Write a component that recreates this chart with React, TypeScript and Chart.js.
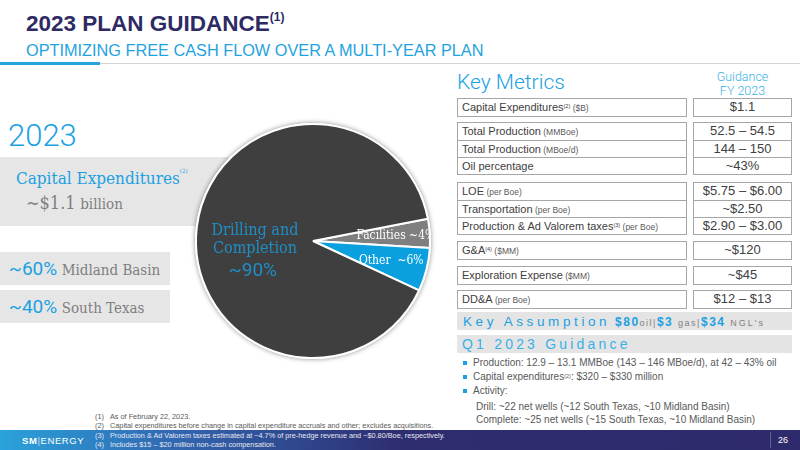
import { Fragment, useEffect, useRef } from "react"
import { Chart, registerables } from "chart.js"

Chart.register(...registerables)

// 2023 capital split by use (% of total)
const categories = ["Facilities", "Other", "Drilling and Completion"]
const shares = [4, 6, 90]
const sliceLabels = [["Facilities ~4%"], ["Other  ~6%"], ["Drilling and", "Completion", "~90%"]]
const sliceColors = ["#7f7f7f", "#0aa0e0", "#3f3f3f"]

// key metrics table
const metricNames = [
  "Capital Expenditures",
  "Total Production",
  "Total Production",
  "Oil percentage",
  "LOE",
  "Transportation",
  "Production & Ad Valorem taxes",
  "G&A",
  "Exploration Expense",
  "DD&A",
]
const metricNotes = ["(2)", "", "", "", "", "", "(3)", "(4)", "", ""]
const metricUnits = ["($B)", "(MMBoe)", "(MBoe/d)", "", "(per Boe)", "(per Boe)", "(per Boe)", "($MM)", "($MM)", "(per Boe)"]
const metricValues = ["$1.1", "52.5 – 54.5", "144 – 150", "~43%", "$5.75 – $6.00", "~$2.50", "$2.90 – $3.00", "~$120", "~$45", "$12 – $13"]
const metricGroups = [[0], [1, 2, 3], [4, 5, 6], [7], [8], [9]]

const footnotes = [
  "As of February 22, 2023.",
  "Capital expenditures before change in capital expenditure accruals and other; excludes acquisitions.",
  "Production & Ad Valorem taxes estimated at ~4.7% of pre-hedge revenue and ~$0.80/Boe, respectively.",
  "Includes $15 – $20 million non-cash compensation.",
]

const sans = "'Liberation Sans', Arial, sans-serif"
const light = "Roboto, 'Noto Sans', sans-serif"
const serif = "'DejaVu Serif Condensed', 'DejaVu Serif', serif"
const blue = "#1ba1e2"
const gray = "#7f7f7f"
const line = "1.5px solid #a6a6a6"
const groupTops = [98, 122, 182, 241, 266, 290]
const ROW = 17

// label placement inside the pie: fraction of radius along the slice middle
const labelFrac = [0.71, 0.69, 0.5]

const sup = (t: string, size = 6) => (
  <span style={{ fontSize: size, verticalAlign: "top", position: "relative", top: -1 }}>{t}</span>
)

export default function App() {
  const chartRef = useRef<HTMLCanvasElement>(null)
  const chartInstance = useRef<Chart | null>(null)

  useEffect(() => {
    if (!chartRef.current) return
    if (chartInstance.current) chartInstance.current.destroy()
    const ctx = chartRef.current.getContext("2d")
    if (!ctx) return

    const shadow = {
      id: "pieShadow",
      beforeDatasetsDraw(chart: Chart) {
        const arc: any = chart.getDatasetMeta(0).data[0]
        if (!arc) return
        const { x, y, outerRadius } = arc.getProps(["x", "y", "outerRadius"], true)
        const c = chart.ctx
        c.save()
        c.shadowColor = "rgba(0,0,0,0.45)"
        c.shadowBlur = 5
        c.beginPath()
        c.arc(x, y, outerRadius + 1, 0, Math.PI * 2)
        c.fillStyle = "#ffffff"
        c.fill()
        c.restore()
      },
    }

    const labels = {
      id: "sliceLabels",
      afterDatasetsDraw(chart: Chart) {
        const c = chart.ctx
        const arcs: any[] = chart.getDatasetMeta(0).data as any[]
        arcs.forEach((arc, i) => {
          const { x, y, startAngle, endAngle, outerRadius } = arc.getProps(
            ["x", "y", "startAngle", "endAngle", "outerRadius"],
            true
          )
          const mid = (startAngle + endAngle) / 2
          const lx = x + Math.cos(mid) * outerRadius * labelFrac[i]
          const ly = y + Math.sin(mid) * outerRadius * labelFrac[i]
          c.save()
          c.beginPath()
          c.arc(x, y, outerRadius - 1, 0, Math.PI * 2)
          c.clip()
          c.textAlign = "center"
          c.textBaseline = "middle"
          const lines = sliceLabels[i]
          if (lines.length === 1) {
            c.fillStyle = "#ffffff"
            c.font = `12px ${serif}`
            c.fillText(lines[0], lx, ly)
          } else {
            c.fillStyle = "#1e8fc6"
            c.font = `16px ${serif}`
            c.fillText(lines[0], lx, ly - 3)
            c.fillText(lines[1], lx, ly + 15)
            c.font = `19px ${light}`
            c.fillText(lines[2], lx - 2, ly + 37)
          }
          c.restore()
        })
      },
    }

    chartInstance.current = new Chart(ctx, {
      type: "pie",
      data: {
        labels: categories,
        datasets: [
          {
            data: shares,
            backgroundColor: sliceColors,
            borderColor: "#ffffff",
            borderWidth: 2,
          },
        ],
      },
      options: {
        responsive: true,
        maintainAspectRatio: false,
        animation: false,
        rotation: 79,
        layout: { padding: 6 },
        plugins: {
          legend: { display: false },
          tooltip: { enabled: false },
        },
      },
      plugins: [shadow, labels],
    })

    return () => {
      if (chartInstance.current) {
        chartInstance.current.destroy()
        chartInstance.current = null
      }
    }
  }, [])

  const abs = (l: number, t: number, extra: any = {}) => ({ position: "absolute" as const, left: l, top: t, ...extra })

  return (
    <div
      style={{
        position: "fixed",
        left: 0,
        top: 0,
        width: 800,
        height: 450,
        background: "#ffffff",
        overflow: "hidden",
        fontFamily: sans,
        color: "#404040",
      }}
    >
      {/* title */}
      <div style={abs(26, 11, { fontSize: 22.5, fontWeight: 700, color: "#2e2a63", whiteSpace: "nowrap" })}>
        2023 PLAN GUIDANCE
        <span style={{ fontSize: 12, verticalAlign: "top", position: "relative", top: -1 }}>(1)</span>
      </div>
      <div style={abs(26, 41, { fontSize: 16.3, color: "#1fa3e0", whiteSpace: "nowrap" })}>
        OPTIMIZING FREE CASH FLOW OVER A MULTI-YEAR PLAN
      </div>
      <div style={abs(0, 63, { width: 800, height: 1, background: "#d4d4d4" })} />
      <div style={abs(0, 62, { width: 100, height: 2.5, background: "#2aa3dd" })} />

      {/* left panel */}
      <div style={abs(8, 117, { fontFamily: light, fontWeight: 300, fontSize: 31, color: blue })}>2023</div>
      <div style={abs(0, 157, { width: 250, height: 69, background: "#e6e6e6" })} />
      <div style={abs(16, 168, { fontFamily: serif, fontSize: 17, color: blue, whiteSpace: "nowrap" })}>
        Capital Expenditures{sup("(2)")}
      </div>
      <div style={abs(26, 192, { fontFamily: serif, color: gray, whiteSpace: "nowrap" })}>
        <span style={{ fontSize: 18 }}>~$1.1</span> <span style={{ fontSize: 15 }}>billion</span>
      </div>
      <div style={abs(0, 252, { width: 170, height: 33, background: "#e6e6e6" })} />
      <div style={abs(0, 290, { width: 170, height: 33, background: "#e6e6e6" })} />
      <div style={abs(9, 257, { whiteSpace: "nowrap" })}>
        <span style={{ fontFamily: light, fontSize: 19, color: blue }}>~60%</span>{" "}
        <span style={{ fontFamily: serif, fontSize: 15, color: gray }}>Midland Basin</span>
      </div>
      <div style={abs(9, 295, { whiteSpace: "nowrap" })}>
        <span style={{ fontFamily: light, fontSize: 19, color: blue }}>~40%</span>{" "}
        <span style={{ fontFamily: serif, fontSize: 15, color: gray }}>South Texas</span>
      </div>

      {/* pie */}
      <div style={abs(189, 117, { width: 248, height: 248 })}>
        <canvas ref={chartRef} />
      </div>

      {/* key metrics */}
      <div style={abs(457, 70, { fontFamily: light, fontWeight: 300, fontSize: 21, color: blue })}>Key Metrics</div>
      <div
        style={abs(693, 70, {
          width: 99,
          textAlign: "center",
          fontFamily: light,
          fontWeight: 300,
          fontSize: 12.5,
          lineHeight: "14px",
          color: "#3ab0e6",
        })}
      >
        Guidance
        <br />
        FY 2023
      </div>
      {metricGroups.map((rows, g) => (
        <Fragment key={g}>
          <div style={abs(457, groupTops[g], { width: 230, border: line, boxSizing: "border-box" })}>
            {rows.map((r, k) => (
              <div
                key={r}
                style={{
                  height: ROW,
                  boxSizing: "border-box",
                  borderTop: k ? line : "none",
                  paddingLeft: 4,
                  fontSize: 11,
                  lineHeight: `${ROW - 1}px`,
                  whiteSpace: "nowrap",
                }}
              >
                {metricNames[r]}
                {metricNotes[r] ? sup(metricNotes[r], 5.5) : null}
                {metricUnits[r] ? <span style={{ fontSize: 8.5, color: "#595959" }}> {metricUnits[r]}</span> : null}
              </div>
            ))}
          </div>
          <div style={abs(693, groupTops[g], { width: 99, border: line, boxSizing: "border-box" })}>
            {rows.map((r, k) => (
              <div
                key={r}
                style={{
                  height: ROW,
                  boxSizing: "border-box",
                  borderTop: k ? line : "none",
                  textAlign: "center",
                  fontSize: 13,
                  lineHeight: `${ROW - 1}px`,
                  whiteSpace: "nowrap",
                }}
              >
                {metricValues[r]}
              </div>
            ))}
          </div>
        </Fragment>
      ))}

      {/* key assumption */}
      <div style={abs(457, 312, { width: 335, height: 18, background: "#e4e4e4" })} />
      <div style={abs(463, 312, { lineHeight: "18px", whiteSpace: "nowrap", color: blue })}>
        <span style={{ fontSize: 13.5, letterSpacing: 3.6 }}>Key Assumption</span>
        <span style={{ fontSize: 12, fontWeight: 700, letterSpacing: 1.5 }}> $80</span>
        <span style={{ fontSize: 9, letterSpacing: 1.5, color: gray }}>oil|</span>
        <span style={{ fontSize: 12, fontWeight: 700, letterSpacing: 1.5 }}>$3 </span>
        <span style={{ fontSize: 9, letterSpacing: 1.5, color: gray }}>gas|</span>
        <span style={{ fontSize: 12, fontWeight: 700, letterSpacing: 1.5 }}>$34 </span>
        <span style={{ fontSize: 9, letterSpacing: 2, color: gray }}>NGL's</span>
      </div>

      {/* Q1 guidance */}
      <div style={abs(457, 335, { width: 335, height: 18, background: "#e4e4e4" })} />
      <div style={abs(462, 335, { lineHeight: "18px", fontSize: 14, letterSpacing: 3.2, color: "#3ab0e6", whiteSpace: "nowrap" })}>
        Q1 2023 Guidance
      </div>
      {[
        <>Production: 12.9 – 13.1 MMBoe (143 – 146 MBoe/d), at 42 – 43% oil</>,
        <>Capital expenditures{sup("(2)", 5.5)}: $320 – $330 million</>,
        <>Activity:</>,
      ].map((t, i) => (
        <Fragment key={i}>
          <div style={abs(463, 361 + i * 14, { width: 4, height: 4, background: blue })} />
          <div style={abs(473, 356 + i * 14, { fontSize: 10, lineHeight: "14px", color: "#595959", whiteSpace: "nowrap" })}>{t}</div>
        </Fragment>
      ))}
      <div style={abs(476, 400, { fontSize: 10, lineHeight: "14px", color: "#595959", whiteSpace: "nowrap" })}>
        Drill: ~22 net wells (~12 South Texas, ~10 Midland Basin)
      </div>
      <div style={abs(476, 413, { fontSize: 10, lineHeight: "14px", color: "#595959", whiteSpace: "nowrap" })}>
        Complete: ~25 net wells (~15 South Texas, ~10 Midland Basin)
      </div>

      {/* footer */}
      <div
        style={abs(0, 430, {
          width: 800,
          height: 20,
          background: "linear-gradient(to right, #2aa2db 0%, #3166b0 22%, #2e2d70 50%, #2e2a6c 100%)",
        })}
      />
      <div style={abs(770, 432, { width: 1, height: 16, background: "rgba(255,255,255,0.25)" })} />
      <div style={abs(22, 435, { fontSize: 9.5, color: "#ffffff", whiteSpace: "nowrap", letterSpacing: 0.6 })}>
        <b>SM</b>
        <span style={{ opacity: 0.7 }}>|</span>ENERGY
      </div>
      <div style={abs(778, 435, { fontSize: 9, color: "#ffffff" })}>26</div>
      {footnotes.map((f, i) => (
        <Fragment key={i}>
          <div style={abs(95, 412 + i * 9.3, { fontSize: 7.3, color: i < 2 ? "#595959" : "#e8e8f0", whiteSpace: "nowrap" })}>
            ({i + 1})
          </div>
          <div style={abs(110, 412 + i * 9.3, { fontSize: 7.3, color: i < 2 ? "#595959" : "#e8e8f0", whiteSpace: "nowrap" })}>
            {f}
          </div>
        </Fragment>
      ))}
    </div>
  )
}
